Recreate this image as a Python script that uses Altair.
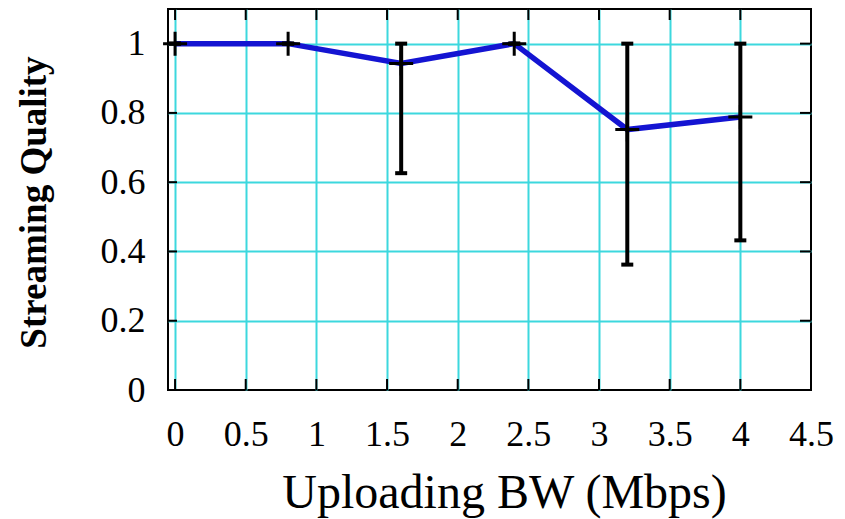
import altair as alt
import pandas as pd

# ---- data ----
bw = [0.0, 0.8, 1.6, 2.4, 3.2, 4.0]
quality = [1.0, 1.0, 0.943, 1.0, 0.752, 0.788]
err_low = [1.0, 1.0, 0.626, 1.0, 0.362, 0.432]
err_high = [1.0, 1.0, 1.0, 1.0, 1.0, 1.0]
x_ticks = [0, 0.5, 1, 1.5, 2, 2.5, 3, 3.5, 4, 4.5]
y_ticks = [0, 0.2, 0.4, 0.6, 0.8, 1.0]

W, H = 643, 381
CYAN = "#3cd8de"
BLUE = "#1414d2"
SERIF = "Liberation Serif"

df = pd.DataFrame({"bw": bw, "q": quality, "lo": err_low, "hi": err_high})
xt = pd.DataFrame({"t": x_ticks})
yt = pd.DataFrame({"t": y_ticks})

xscale = alt.Scale(domain=[-0.05, 4.5], nice=False, zero=False)
yscale = alt.Scale(domain=[0, 1.1], nice=False, zero=False)

xaxis = alt.Axis(
    values=x_ticks, format="~g", title="Uploading BW (Mbps)",
    grid=True, gridWidth=2,
    gridColor={"condition": {"test": "datum.value > 4.4", "value": "transparent"}, "value": CYAN},
    ticks=False, domain=False, labelFlush=False, labelOverlap=False,
    labelFont=SERIF, labelFontSize=36, labelColor="black",
    labelBaseline="alphabetic", labelPadding=55,
    titleFont=SERIF, titleFontSize=48, titleFontWeight="normal", titleColor="black",
    titleBaseline="alphabetic", titleY=117, titleX=336,
)
yaxis = alt.Axis(
    values=y_ticks, format="~g", title="Streaming Quality",
    grid=True, gridWidth=2,
    gridColor={"condition": {"test": "datum.value < 0.05", "value": "transparent"}, "value": CYAN},
    ticks=False, domain=False, labelFlush=False, labelOverlap=False,
    labelFont=SERIF, labelFontSize=36, labelColor="black",
    labelBaseline="middle", labelPadding=23,
    titleFont=SERIF, titleFontSize=37, titleFontWeight="bold", titleColor="black",
    titleAngle=270, titleBaseline="alphabetic", titleX=-123, titleY=193,
)


def X(field):
    return alt.X(field, scale=xscale, axis=xaxis)


def Y(field):
    return alt.Y(field, scale=yscale, axis=yaxis)


base = alt.Chart(df)

line = base.mark_line(color=BLUE, strokeWidth=5.5).encode(x=X("bw:Q"), y=Y("q:Q"))

bars = base.mark_rule(color="black", strokeWidth=4).encode(
    x=X("bw:Q"), y=Y("lo:Q"), y2="hi:Q")
cap_lo = base.mark_tick(orient="horizontal", size=12, thickness=4, color="black", opacity=1).encode(
    x=X("bw:Q"), y=Y("lo:Q"))
cap_hi = base.mark_tick(orient="horizontal", size=12, thickness=4, color="black", opacity=1).encode(
    x=X("bw:Q"), y=Y("hi:Q"))
marks = base.mark_point(
    shape="M-1,0L1,0M0,-1L0,1", size=576, filled=False,
    stroke="black", strokeWidth=3, opacity=1,
).encode(x=X("bw:Q"), y=Y("q:Q"))

tick_top = alt.Chart(xt).mark_rule(color="black", strokeWidth=2).encode(
    x=X("t:Q"), y=alt.value(0), y2=alt.value(11))
tick_bot = alt.Chart(xt).mark_rule(color="black", strokeWidth=2).encode(
    x=X("t:Q"), y=alt.value(H), y2=alt.value(H - 11))
tick_left = alt.Chart(yt).mark_rule(color="black", strokeWidth=2).encode(
    y=Y("t:Q"), x=alt.value(0), x2=alt.value(9))
tick_right = alt.Chart(yt).mark_rule(color="black", strokeWidth=2).encode(
    y=Y("t:Q"), x=alt.value(W), x2=alt.value(W - 11))

chart = alt.layer(
    line, tick_top, tick_bot, tick_left, tick_right, bars, cap_lo, cap_hi, marks
).properties(
    width=W, height=H,
    autosize=alt.AutoSizeParams(type="none"),
    padding={"left": 160, "top": 1, "right": 26, "bottom": 130},
    background="white",
).configure_view(stroke="black", strokeWidth=2)

chart.save("out.html", embed_options={"renderer": "svg", "actions": False})
